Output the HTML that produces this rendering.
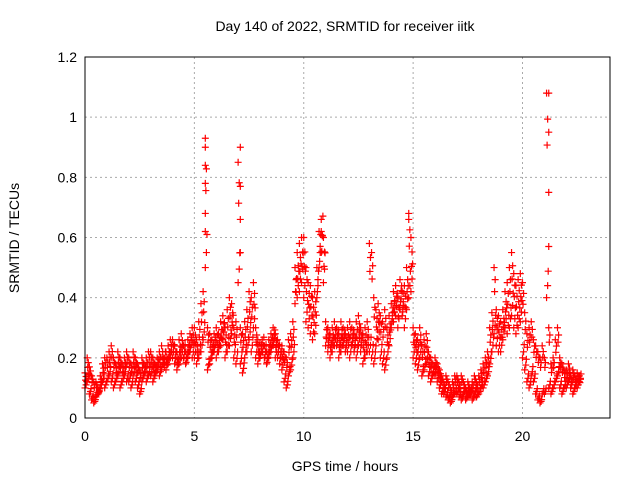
<!DOCTYPE html>
<html><head><meta charset="utf-8"><style>
body{margin:0;background:#fff;}
svg{display:block;font-family:"Liberation Sans",sans-serif;}
</style></head><body>
<svg id="chart" width="640" height="480">
<rect x="0" y="0" width="640" height="480" fill="#fff"/>
<text x="345" y="31" text-anchor="middle" font-size="14">Day 140 of 2022, SRMTID for receiver iitk</text>
<text x="345" y="471" text-anchor="middle" font-size="14">GPS time / hours</text>
<text transform="translate(19,238) rotate(-90)" text-anchor="middle" font-size="14">SRMTID / TECUs</text>
<g id="grid"></g><g id="ticks"></g><g id="marks"></g>
<rect x="85" y="57" width="525" height="361" fill="none" stroke="#000"/>
</svg>
<script>
const xTicks=[0,5,10,15,20];
const yTicks=[0,0.2,0.4,0.6,0.8,1,1.2];
const yTickLabels=["0","0.2","0.4","0.6","0.8","1","1.2"];
const upperVals=[.15,.2,.17,.14,.12,.12,.1,.14,.18,.2,
.2,.22,.24,.2,.18,.22,.2,.18,.2,.22,
.2,.18,.22,.2,.18,.16,.2,.18,.2,.22,
.22,.2,.18,.2,.22,.24,.2,.22,.24,.26,
.26,.24,.22,.26,.28,.24,.22,.26,.28,.3,
.3,.26,.32,.38,.42,.9,.3,.28,.26,.28,
.3,.28,.32,.34,.3,.36,.4,.38,.3,.32,
.85,.3,.28,.32,.36,.42,.4,.45,.3,.26,
.25,.26,.24,.22,.26,.28,.3,.28,.26,.24,
.24,.22,.2,.26,.28,.32,.5,.55,.58,.6,
.6,.5,.45,.44,.4,.42,.5,.62,.66,.6,
.32,.3,.28,.3,.32,.3,.28,.32,.3,.28,
.3,.32,.3,.28,.32,.34,.3,.28,.3,.32,
.58,.55,.4,.36,.38,.34,.32,.36,.3,.34,
.38,.42,.44,.4,.46,.42,.44,.5,.68,.6,
.3,.28,.26,.3,.24,.26,.28,.22,.2,.18,
.2,.18,.16,.14,.12,.14,.12,.1,.12,.14,
.14,.12,.14,.12,.1,.12,.1,.12,.14,.12,
.14,.16,.18,.2,.22,.3,.35,.5,.36,.34,
.32,.36,.42,.45,.5,.55,.48,.44,.46,.48,
.45,.35,.28,.3,.32,.26,.24,.22,.2,.24,
.2,1.08,.3,.18,.2,.26,.3,.2,.18,.16,
.16,.18,.14,.16,.14,.15,.14];
const lowerVals=[.1,.12,.08,.06,.05,.07,.08,.1,.12,.1,
.12,.14,.12,.1,.12,.14,.1,.12,.14,.12,
.12,.1,.14,.12,.1,.08,.12,.14,.12,.14,
.14,.12,.14,.16,.14,.16,.18,.16,.18,.2,
.2,.18,.16,.18,.2,.2,.18,.2,.22,.2,
.2,.18,.2,.22,.26,.5,.16,.18,.2,.22,
.2,.22,.24,.26,.2,.22,.24,.28,.2,.18,
.45,.18,.15,.2,.22,.26,.22,.3,.2,.18,
.2,.22,.2,.18,.2,.22,.24,.2,.2,.18,
.16,.12,.1,.14,.16,.2,.38,.4,.42,.45,
.4,.32,.3,.28,.26,.28,.4,.5,.55,.45,
.24,.22,.2,.22,.24,.24,.2,.22,.24,.22,
.22,.2,.24,.22,.2,.24,.22,.18,.2,.22,
.22,.2,.18,.24,.26,.2,.18,.16,.2,.24,
.3,.32,.34,.3,.36,.34,.3,.36,.4,.42,
.2,.18,.16,.2,.14,.16,.18,.14,.12,.14,
.14,.12,.1,.08,.08,.07,.06,.05,.07,.08,
.08,.07,.06,.08,.06,.07,.08,.06,.08,.07,
.08,.1,.1,.12,.14,.18,.22,.28,.24,.22,
.22,.26,.3,.28,.3,.34,.3,.28,.3,.32,
.2,.16,.12,.1,.14,.12,.08,.06,.05,.08,
.08,.4,.1,.08,.1,.12,.14,.1,.08,.1,
.1,.12,.1,.08,.1,.1,.12];
const spikeTimes=[5.5,5.5,5.5,5.5,5.5,7.1,7.1,7.1,7.1,21.2,21.2,21.2,21.2,14.8,10.8];
const spikeVals=[.93,.84,.78,.68,.62,.9,.77,.66,.55,1.08,.95,.75,.57,.66,.62];
const timeStep=0.1;
const NS="http://www.w3.org/2000/svg";
const X=t=>85+t*(525/24);
const Y=v=>418-v*(361/1.2);
const grid=document.getElementById('grid'),ticks=document.getElementById('ticks'),marks=document.getElementById('marks');
function el(tag,attrs,parent){const e=document.createElementNS(NS,tag);for(const k in attrs)e.setAttribute(k,attrs[k]);parent.appendChild(e);return e;}
yTicks.forEach((v,i)=>{
  if(v>0&&v<1.2){const g=el('line',{x1:85,x2:610,y1:Y(v),y2:Y(v),stroke:'#aaa','stroke-dasharray':'2,3'},grid);
  
  }
  const t=el('text',{x:77,y:Y(v)+5,'text-anchor':'end','font-size':14},ticks);t.textContent=yTickLabels[i];
  
  
});
xTicks.forEach(v=>{
  if(v>0){const g=el('line',{x1:X(v),x2:X(v),y1:57,y2:418,stroke:'#aaa','stroke-dasharray':'2,3'},grid);
  
  }
  const t=el('text',{x:X(v),y:441,'text-anchor':'middle','font-size':14},ticks);t.textContent=String(v);
  
  
});
function cross(t,v,color){
  const x=X(t),y=Y(v);
  const p=el('path',{d:`M${x-3.5},${y}H${x+3.5}M${x},${y-3.5}V${y+3.5}`,stroke:color,'stroke-width':1.2,fill:'none'},marks);
  
  
}
upperVals.forEach((v,i)=>{const t=i*timeStep;cross(t,v,'#f00');cross(t+0.05,v*0.92,'#f00');cross(t+0.025,v*0.84,'#f00');});
lowerVals.forEach((v,i)=>{const t=i*timeStep;cross(t,v,'#f00');cross(t+0.05,v*1.1,'#f00');cross(t+0.075,v*1.22,'#f00');});
spikeTimes.forEach((t,i)=>cross(t,spikeVals[i],'#f00'));
</script>
</body></html>
